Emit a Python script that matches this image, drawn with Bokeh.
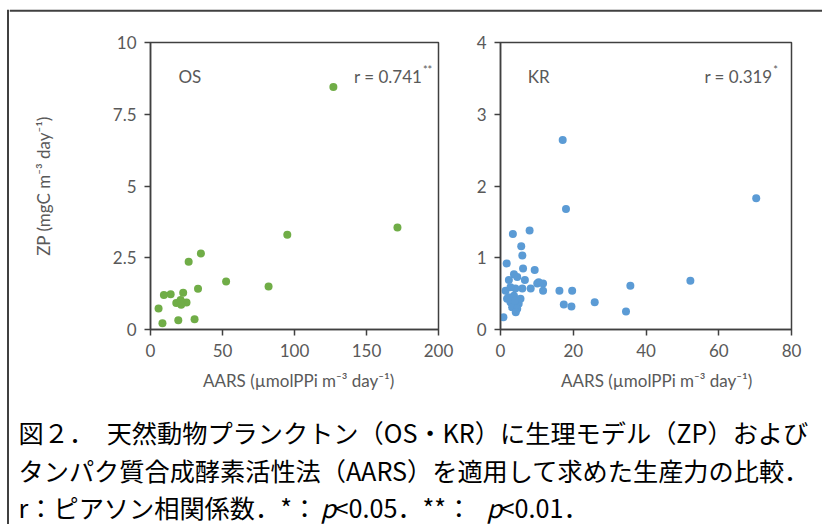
from bokeh.plotting import figure
from bokeh.layouts import column, row
from bokeh.models import FixedTicker, Label, Range1d
from bokeh.core.properties import value
from bokeh.embed import file_html
from bokeh.resources import INLINE

# ---------------- data ----------------
os_x = [127, 171.5, 95, 35, 26.5, 52.5, 82, 33, 22.7, 14, 9.3, 5.6, 8.3, 19.3, 30.6, 17.9, 20.9, 25, 21.3]
os_y = [8.45, 3.55, 3.3, 2.65, 2.36, 1.67, 1.5, 1.42, 1.28, 1.23, 1.2, 0.73, 0.22, 0.32, 0.36, 0.92, 1.03, 0.94, 0.86]

kr_x = [17.1, 18.0, 70.3, 8.0, 3.4, 5.7, 6.0, 1.7, 6.2, 9.4, 2.3, 3.7, 4.6, 6.7, 10.5, 11.7, 10.1, 11.7,
        8.3, 6.0, 16.2, 19.7, 35.7, 52.2, 25.9, 34.5, 17.4, 19.5, 0.8, 1.4, 1.8, 2.75, 5.0, 5.5, 3.7,
        3.2, 4.6, 4.1, 2.75, 4.2, 2.2, 4.0]
kr_y = [2.64, 1.68, 1.83, 1.38, 1.33, 1.16, 1.03, 0.92, 0.85, 0.83, 0.69, 0.77, 0.73, 0.69, 0.66, 0.64, 0.64, 0.54,
        0.57, 0.57, 0.54, 0.54, 0.61, 0.68, 0.38, 0.25, 0.35, 0.32, 0.17, 0.54, 0.43, 0.38, 0.36, 0.43, 0.47,
        0.31, 0.29, 0.57, 0.59, 0.24, 0.45, 0.40]

os_xticks = [0, 50, 100, 150, 200]
os_yticks = [0, 2.5, 5, 7.5, 10]
os_ytick_labels = ["0", "2.5", "5", "7.5", "10"]
kr_xticks = [0, 20, 40, 60, 80]
kr_yticks = [0, 1, 2, 3, 4]

x_label = "AARS (\u00b5molPPi m\u207b\u00b3 day\u207b\u00b9)"
y_label = "ZP (mgC m\u207b\u00b3 day\u207b\u00b9)"

os_name, os_r, os_sig = "OS", "r = 0.741", "**"
kr_name, kr_r, kr_sig = "KR", "r = 0.319", "*"

cap_lines = ["図２．　天然動物プランクトン（OS・KR）に生理モデル（ZP）および",
             "タンパク質合成酵素活性法（AARS）を適用して求めた生産力の比較．"]
cap_line3 = ["r：ピアソン相関係数．*：", "p", "<0.05．**：", "p", "<0.01．"]
cap_line3_italic = [False, True, False, True, False]

FONT = "Lato"
GRAY = "#595959"
DARK = "#404040"
GREEN = "#70AD47"
BLUE = "#5B9BD5"


def make_fig(xr, yr, fw, fh, left, right, top, bottom, xticks, yticks):
    p = figure(frame_width=fw, frame_height=fh, x_range=Range1d(*xr), y_range=Range1d(*yr),
               output_backend="svg", toolbar_location=None,
               min_border_left=left, min_border_right=right,
               min_border_top=top, min_border_bottom=bottom)
    p.xgrid.visible = False
    p.ygrid.visible = False
    p.outline_line_color = DARK
    p.outline_line_width = 1.5
    p.background_fill_color = "white"
    p.border_fill_color = "white"
    for ax in (p.xaxis, p.yaxis):
        ax.axis_line_color = DARK
        ax.axis_line_width = 1.5
        ax.major_tick_line_color = DARK
        ax.major_tick_line_width = 1.5
        ax.major_tick_in = 0
        ax.major_tick_out = 6
        ax.minor_tick_line_color = None
        ax.major_label_text_font = FONT
        ax.major_label_text_font_size = "17px"
        ax.major_label_text_color = GRAY
        ax.major_label_standoff = 8
        ax.axis_label_text_font = FONT
        ax.axis_label_text_font_size = "17px"
        ax.axis_label_text_font_style = "normal"
        ax.axis_label_text_color = GRAY
    p.xaxis.ticker = FixedTicker(ticks=xticks)
    p.yaxis.ticker = FixedTicker(ticks=yticks)
    p.xaxis.axis_label_standoff = 10
    return p


# plots: p1 occupies x 9..460, p2 x 460..822; both y 12..392
p1 = make_fig((0, 200), (0, 10), 288, 287, 141, 22, 30, 63, os_xticks, os_yticks)
p1.xaxis.axis_label = "\u00a0" * 2 + x_label
p1.yaxis.major_label_overrides = {t: s for t, s in zip(os_yticks, os_ytick_labels)}
p1.yaxis.axis_label = y_label
p1.yaxis.axis_label_standoff = 56
p1.scatter(os_x, os_y, size=8, fill_color=GREEN, line_color=None)

p2 = make_fig((0, 80), (0, 4), 291, 287, 40, 31, 30, 63, kr_xticks, kr_yticks)
p2.xaxis.axis_label = "\u00a0" * 5 + x_label
p2.scatter(kr_x, kr_y, size=8, fill_color=BLUE, line_color=None)


def add_labels(p, name, nx, ny, rtxt, rx, ry, sig, sx, sy):
    p.add_layout(Label(x=nx, y=ny, text=name, text_font=FONT, text_font_size="17px",
                       text_color=GRAY, text_baseline="middle", text_align="left"))
    p.add_layout(Label(x=rx, y=ry, text=rtxt, text_font=FONT, text_font_size="17px",
                       text_color=GRAY, text_baseline="middle", text_align="right"))
    p.add_layout(Label(x=sx, y=sy, text=sig, text_font=FONT, text_font_size="11px",
                       text_color=GRAY, text_baseline="middle", text_align="left"))


add_labels(p1, os_name, 19.4, 8.8, os_r, 188.7, 8.8, os_sig, 189.2, 9.05)
add_labels(p2, kr_name, 7.5, 3.53, kr_r, 74.8, 3.53, kr_sig, 75.0, 3.63)

# caption (x 9..822, y 392..524)
p3 = figure(width=813, height=132, x_range=Range1d(0, 813), y_range=Range1d(132, 0),
            x_axis_type=None, y_axis_type=None, output_backend="svg", toolbar_location=None,
            min_border=0)
p3.outline_line_color = None
p3.xgrid.visible = False
p3.ygrid.visible = False
CAPFONT = "Noto Sans CJK JP"
CAPSIZE = "25.2px"
p3.text(x=[9, 9], y=[38, 76], text=cap_lines, text_font=value(CAPFONT), text_font_size=CAPSIZE,
        text_color="black", text_baseline="middle", text_align="left")
seg_x = [9, 311, 325, 477, 491]
for sx, seg, it in zip(seg_x, cap_line3, cap_line3_italic):
    p3.text(x=[sx], y=[113], text=[seg], text_font=value(CAPFONT), text_font_size=CAPSIZE,
            text_font_style="italic" if it else "normal",
            text_color="black", text_baseline="middle", text_align="left")


# frame border of the whole figure (top and left edges)
def deco(w, h):
    d = figure(width=w, height=h, x_range=Range1d(0, w), y_range=Range1d(h, 0),
               x_axis_type=None, y_axis_type=None, output_backend="svg",
               toolbar_location=None, min_border=0)
    d.outline_line_color = None
    d.xgrid.visible = False
    d.ygrid.visible = False
    return d


left_deco = deco(9, 524)
left_deco.segment(x0=[7.5], y0=[9.3], x1=[7.5], y1=[524], line_color=DARK, line_width=2)
top_deco = deco(813, 12)
top_deco.segment(x0=[0], y0=[10.3], x1=[813], y1=[10.3], line_color=DARK, line_width=2)

layout = row(left_deco, column(top_deco, row(p1, p2), p3))

open("out.html", "w").write(file_html(layout, INLINE))
